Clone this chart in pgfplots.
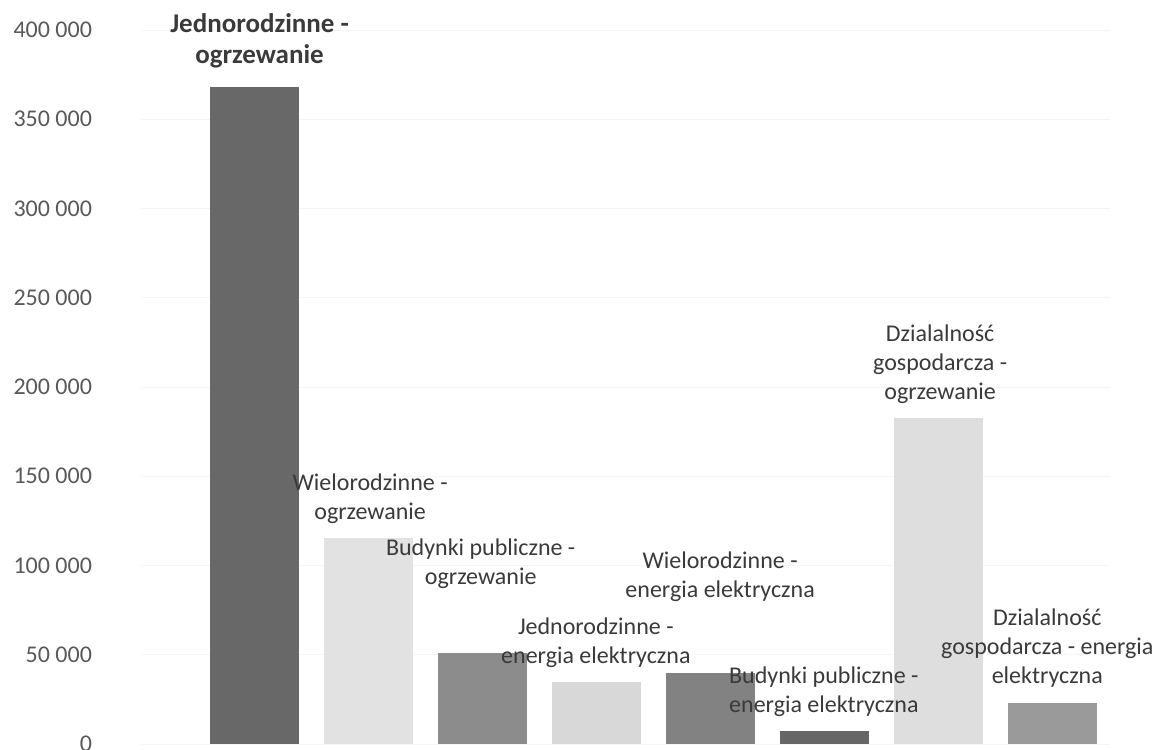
\documentclass[border=0pt]{standalone}
\usepackage{fontspec}
\setmainfont{Carlito}
\usepackage{pgfplots}
\pgfplotsset{compat=1.18}
\definecolor{b1}{HTML}{686868}
\definecolor{b2}{HTML}{E2E2E2}
\definecolor{b3}{HTML}{8C8C8C}
\definecolor{b4}{HTML}{D8D8D8}
\definecolor{b5}{HTML}{828282}
\definecolor{b6}{HTML}{666666}
\definecolor{b7}{HTML}{DEDEDE}
\definecolor{b8}{HTML}{9A9A9A}
\definecolor{lblgray}{HTML}{3A3A3A}
\definecolor{tickgray}{HTML}{595959}
\tikzset{lbl/.style={align=center, text=lblgray, font=\fontsize{12}{14.6}\selectfont}}
\begin{document}
\begin{tikzpicture}
\useasboundingbox (-70.5pt,-3pt) rectangle (511pt,372pt);
\begin{axis}[
  at={(0,0)}, anchor=south west,
  scale only axis, width=484.5pt, height=357pt,
  xmin=-1, xmax=7.5, ymin=0, ymax=400000,
  axis line style={draw=none},
  xtick=\empty,
  ytick={0,50000,100000,150000,200000,250000,300000,350000,400000},
  major tick length=0pt,
  ymajorgrids, grid style={black!4},
  yticklabel style={font=\fontsize{12}{14}\selectfont, text=tickgray, xshift=-21pt},
  scaled y ticks=false,
  /pgf/number format/.cd, 1000 sep={\ }, fixed, assume math mode=true,
  /pgfplots/.cd,
  ybar, bar width=44.5pt, bar shift=0pt,
  clip=false,
]
\addplot[fill=b1, draw=none] coordinates {(0,368100)};
\addplot[fill=b2, draw=none] coordinates {(1,115400)};
\addplot[fill=b3, draw=none] coordinates {(2,51000)};
\addplot[fill=b4, draw=none] coordinates {(3,34700)};
\addplot[fill=b5, draw=none] coordinates {(4,39800)};
\addplot[fill=b6, draw=none] coordinates {(5,7300)};
\addplot[fill=b7, draw=none] coordinates {(6,182600)};
\addplot[fill=b8, draw=none] coordinates {(7,23000)};
\node[lbl, font=\fontsize{13.5}{15.5}\selectfont\bfseries] at (axis cs:0.04,393800) {Jednorodzinne -\\ogrzewanie};
\node[lbl] at (axis cs:1.01,137300) {Wielorodzinne -\\ogrzewanie};
\node[lbl] at (axis cs:1.98,100800) {Budynki publiczne -\\ogrzewanie};
\node[lbl] at (axis cs:2.99,56600) {Jednorodzinne -\\energia elektryczna};
\node[lbl] at (axis cs:4.08,93600) {Wielorodzinne -\\energia elektryczna};
\node[lbl] at (axis cs:4.99,29400) {Budynki publiczne -\\energia elektryczna};
\node[lbl] at (axis cs:6.01,212900) {Dzialalność\\gospodarcza -\\ogrzewanie};
\node[lbl] at (axis cs:6.95,53800) {Dzialalność\\gospodarcza - energia\\elektryczna};
\end{axis}
\end{tikzpicture}
\end{document}
